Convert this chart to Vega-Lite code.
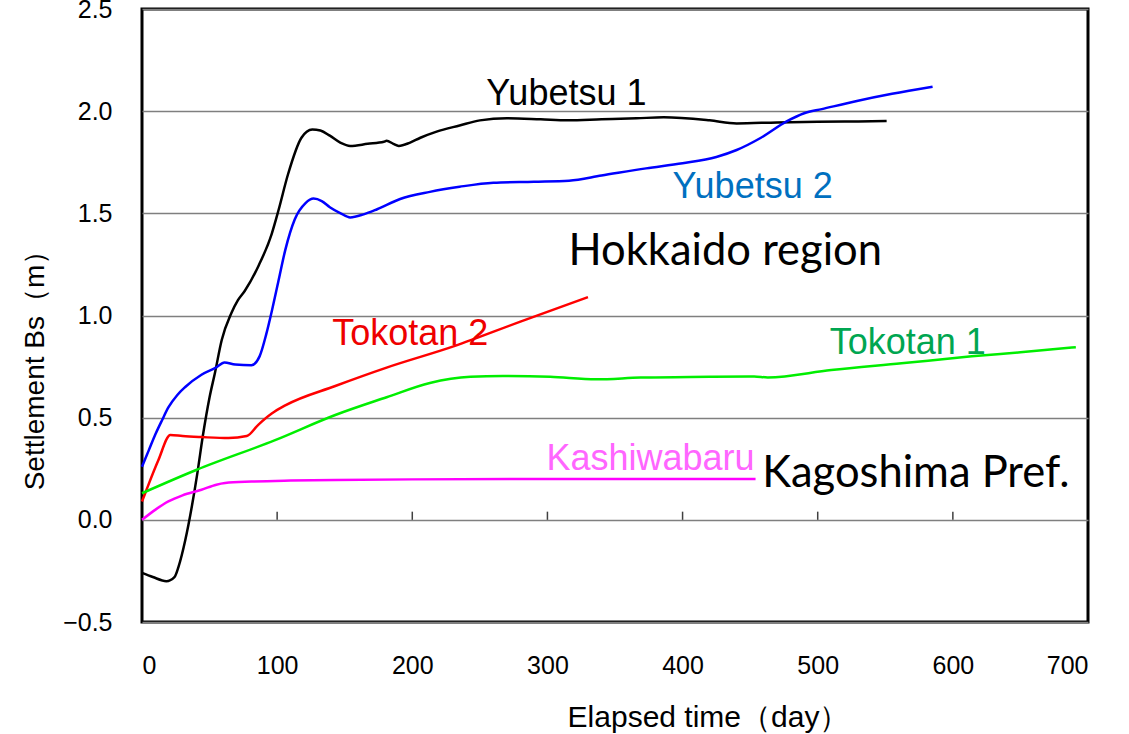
{
  "$schema": "https://vega.github.io/schema/vega-lite/v6.json",
  "width": 946,
  "height": 613,
  "autosize": {"type": "none"},
  "padding": {"left": 142, "top": 9, "right": 41, "bottom": 112},
  "background": "white",
  "config": {
    "view": {"stroke": "black", "strokeWidth": 3},
    "axis": {"labelFont": "Liberation Sans", "titleFont": "Liberation Sans", "labelColor": "#000", "titleColor": "#000", "titleFontWeight": "normal"}
  },
  "datasets": {
    "curves": [
      {"s": "Yubetsu 1", "d": 0, "v": -0.26}, {"s": "Yubetsu 1", "d": 8, "v": -0.28}, {"s": "Yubetsu 1", "d": 18, "v": -0.3}, {"s": "Yubetsu 1", "d": 24, "v": -0.28}, {"s": "Yubetsu 1", "d": 27, "v": -0.23}, {"s": "Yubetsu 1", "d": 32, "v": -0.1}, {"s": "Yubetsu 1", "d": 37, "v": 0.07}, {"s": "Yubetsu 1", "d": 41, "v": 0.23}, {"s": "Yubetsu 1", "d": 45, "v": 0.41}, {"s": "Yubetsu 1", "d": 50, "v": 0.6}, {"s": "Yubetsu 1", "d": 54, "v": 0.72}, {"s": "Yubetsu 1", "d": 59, "v": 0.88}, {"s": "Yubetsu 1", "d": 66, "v": 1.01}, {"s": "Yubetsu 1", "d": 71, "v": 1.075}, {"s": "Yubetsu 1", "d": 76, "v": 1.12}, {"s": "Yubetsu 1", "d": 86, "v": 1.24}, {"s": "Yubetsu 1", "d": 96, "v": 1.4}, {"s": "Yubetsu 1", "d": 101, "v": 1.515}, {"s": "Yubetsu 1", "d": 108, "v": 1.69}, {"s": "Yubetsu 1", "d": 118, "v": 1.87}, {"s": "Yubetsu 1", "d": 126, "v": 1.91}, {"s": "Yubetsu 1", "d": 132, "v": 1.905}, {"s": "Yubetsu 1", "d": 139, "v": 1.88}, {"s": "Yubetsu 1", "d": 147, "v": 1.845}, {"s": "Yubetsu 1", "d": 154, "v": 1.83}, {"s": "Yubetsu 1", "d": 167, "v": 1.84}, {"s": "Yubetsu 1", "d": 179, "v": 1.85}, {"s": "Yubetsu 1", "d": 181, "v": 1.855}, {"s": "Yubetsu 1", "d": 186, "v": 1.84}, {"s": "Yubetsu 1", "d": 190, "v": 1.83}, {"s": "Yubetsu 1", "d": 198, "v": 1.845}, {"s": "Yubetsu 1", "d": 206, "v": 1.87}, {"s": "Yubetsu 1", "d": 218, "v": 1.9}, {"s": "Yubetsu 1", "d": 235, "v": 1.93}, {"s": "Yubetsu 1", "d": 250, "v": 1.955}, {"s": "Yubetsu 1", "d": 270, "v": 1.965}, {"s": "Yubetsu 1", "d": 295, "v": 1.96}, {"s": "Yubetsu 1", "d": 315, "v": 1.955}, {"s": "Yubetsu 1", "d": 340, "v": 1.96}, {"s": "Yubetsu 1", "d": 366, "v": 1.965}, {"s": "Yubetsu 1", "d": 386, "v": 1.97}, {"s": "Yubetsu 1", "d": 420, "v": 1.955}, {"s": "Yubetsu 1", "d": 440, "v": 1.94}, {"s": "Yubetsu 1", "d": 470, "v": 1.945}, {"s": "Yubetsu 1", "d": 500, "v": 1.948}, {"s": "Yubetsu 1", "d": 530, "v": 1.95}, {"s": "Yubetsu 1", "d": 551, "v": 1.952},

      {"s": "Yubetsu 2", "d": 0, "v": 0.26}, {"s": "Yubetsu 2", "d": 5, "v": 0.34}, {"s": "Yubetsu 2", "d": 10, "v": 0.42}, {"s": "Yubetsu 2", "d": 15, "v": 0.49}, {"s": "Yubetsu 2", "d": 19.5, "v": 0.55}, {"s": "Yubetsu 2", "d": 26, "v": 0.61}, {"s": "Yubetsu 2", "d": 32, "v": 0.65}, {"s": "Yubetsu 2", "d": 44, "v": 0.71}, {"s": "Yubetsu 2", "d": 55, "v": 0.746}, {"s": "Yubetsu 2", "d": 61, "v": 0.77}, {"s": "Yubetsu 2", "d": 69, "v": 0.76}, {"s": "Yubetsu 2", "d": 81, "v": 0.757}, {"s": "Yubetsu 2", "d": 87, "v": 0.8}, {"s": "Yubetsu 2", "d": 92, "v": 0.91}, {"s": "Yubetsu 2", "d": 96, "v": 1.02}, {"s": "Yubetsu 2", "d": 101, "v": 1.17}, {"s": "Yubetsu 2", "d": 106, "v": 1.32}, {"s": "Yubetsu 2", "d": 113, "v": 1.47}, {"s": "Yubetsu 2", "d": 121, "v": 1.55}, {"s": "Yubetsu 2", "d": 127, "v": 1.572}, {"s": "Yubetsu 2", "d": 133, "v": 1.56}, {"s": "Yubetsu 2", "d": 139, "v": 1.53}, {"s": "Yubetsu 2", "d": 147, "v": 1.5}, {"s": "Yubetsu 2", "d": 154, "v": 1.48}, {"s": "Yubetsu 2", "d": 164, "v": 1.495}, {"s": "Yubetsu 2", "d": 174, "v": 1.52}, {"s": "Yubetsu 2", "d": 191, "v": 1.57}, {"s": "Yubetsu 2", "d": 213, "v": 1.605}, {"s": "Yubetsu 2", "d": 235, "v": 1.63}, {"s": "Yubetsu 2", "d": 260, "v": 1.65}, {"s": "Yubetsu 2", "d": 290, "v": 1.655}, {"s": "Yubetsu 2", "d": 316, "v": 1.66}, {"s": "Yubetsu 2", "d": 340, "v": 1.685}, {"s": "Yubetsu 2", "d": 373, "v": 1.72}, {"s": "Yubetsu 2", "d": 400, "v": 1.745}, {"s": "Yubetsu 2", "d": 425, "v": 1.776}, {"s": "Yubetsu 2", "d": 440, "v": 1.81}, {"s": "Yubetsu 2", "d": 458, "v": 1.87}, {"s": "Yubetsu 2", "d": 477, "v": 1.95}, {"s": "Yubetsu 2", "d": 490, "v": 1.99}, {"s": "Yubetsu 2", "d": 503, "v": 2.01}, {"s": "Yubetsu 2", "d": 529, "v": 2.05}, {"s": "Yubetsu 2", "d": 555, "v": 2.085}, {"s": "Yubetsu 2", "d": 585, "v": 2.12},

      {"s": "Tokotan 2", "d": 0, "v": 0.09}, {"s": "Tokotan 2", "d": 3.5, "v": 0.15}, {"s": "Tokotan 2", "d": 12, "v": 0.29}, {"s": "Tokotan 2", "d": 21, "v": 0.415}, {"s": "Tokotan 2", "d": 30, "v": 0.41}, {"s": "Tokotan 2", "d": 44, "v": 0.405}, {"s": "Tokotan 2", "d": 64, "v": 0.4}, {"s": "Tokotan 2", "d": 77.5, "v": 0.41}, {"s": "Tokotan 2", "d": 86, "v": 0.465}, {"s": "Tokotan 2", "d": 96, "v": 0.52}, {"s": "Tokotan 2", "d": 106, "v": 0.56}, {"s": "Tokotan 2", "d": 143, "v": 0.655}, {"s": "Tokotan 2", "d": 181, "v": 0.745}, {"s": "Tokotan 2", "d": 231, "v": 0.85}, {"s": "Tokotan 2", "d": 280, "v": 0.97}, {"s": "Tokotan 2", "d": 330, "v": 1.09},

      {"s": "Tokotan 1", "d": 0, "v": 0.13}, {"s": "Tokotan 1", "d": 40.5, "v": 0.245}, {"s": "Tokotan 1", "d": 98.5, "v": 0.39}, {"s": "Tokotan 1", "d": 143, "v": 0.513}, {"s": "Tokotan 1", "d": 181, "v": 0.6}, {"s": "Tokotan 1", "d": 213, "v": 0.67}, {"s": "Tokotan 1", "d": 243, "v": 0.7}, {"s": "Tokotan 1", "d": 267, "v": 0.704}, {"s": "Tokotan 1", "d": 302, "v": 0.7}, {"s": "Tokotan 1", "d": 336, "v": 0.688}, {"s": "Tokotan 1", "d": 369, "v": 0.696}, {"s": "Tokotan 1", "d": 420, "v": 0.7}, {"s": "Tokotan 1", "d": 453, "v": 0.702}, {"s": "Tokotan 1", "d": 463, "v": 0.697}, {"s": "Tokotan 1", "d": 510, "v": 0.733}, {"s": "Tokotan 1", "d": 562, "v": 0.766}, {"s": "Tokotan 1", "d": 614, "v": 0.8}, {"s": "Tokotan 1", "d": 650, "v": 0.82}, {"s": "Tokotan 1", "d": 691, "v": 0.845},

      {"s": "Kashiwabaru", "d": 0, "v": 0}, {"s": "Kashiwabaru", "d": 10, "v": 0.05}, {"s": "Kashiwabaru", "d": 19.5, "v": 0.09}, {"s": "Kashiwabaru", "d": 30, "v": 0.12}, {"s": "Kashiwabaru", "d": 44, "v": 0.147}, {"s": "Kashiwabaru", "d": 55, "v": 0.172}, {"s": "Kashiwabaru", "d": 61.5, "v": 0.18}, {"s": "Kashiwabaru", "d": 81, "v": 0.187}, {"s": "Kashiwabaru", "d": 110, "v": 0.192}, {"s": "Kashiwabaru", "d": 143, "v": 0.195}, {"s": "Kashiwabaru", "d": 200, "v": 0.198}, {"s": "Kashiwabaru", "d": 300, "v": 0.2}, {"s": "Kashiwabaru", "d": 400, "v": 0.2}, {"s": "Kashiwabaru", "d": 454, "v": 0.2}
    ],
    "ticks": [{"d": 100}, {"d": 200}, {"d": 300}, {"d": 400}, {"d": 500}, {"d": 600}]
  },
  "layer": [
    {
      "data": {"name": "ticks"},
      "mark": {"type": "rule", "color": "#404040", "strokeWidth": 1.5},
      "encoding": {
        "x": {"field": "d", "type": "quantitative", "scale": {"domain": [0, 700], "nice": false},
          "axis": {"values": [0, 100, 200, 300, 400, 500, 600, 700], "grid": false, "ticks": false, "tickSize": 0, "domain": false, "labelFontSize": 25, "labelPadding": 43, "labelBaseline": "middle",
            "title": "Elapsed time（day）", "titleFontSize": 30, "titleX": 566, "titleY": 95, "titleBaseline": "middle", "titleAnchor": null, "titleAlign": "center"}},
        "y": {"datum": 0, "type": "quantitative", "scale": {"domain": [-0.5, 2.5], "nice": false},
          "axis": {"values": [-0.5, 0, 0.5, 1, 1.5, 2, 2.5], "format": ".1f", "grid": true, "gridColor": "#7f7f7f", "gridWidth": 1.5, "ticks": false, "tickSize": 0, "domain": false, "labelFontSize": 25, "labelPadding": 30,
            "title": "Settlement Bs（m）", "titleFontSize": 28, "titleAngle": -90, "titleX": -107, "titleY": 354, "titleBaseline": "middle", "titleAlign": "center", "titleAnchor": null}},
        "y2": {"datum": 0.04}
      }
    },
    {
      "data": {"name": "curves"},
      "mark": {"type": "line", "strokeWidth": 2.5, "interpolate": "monotone"},
      "encoding": {
        "x": {"field": "d", "type": "quantitative"},
        "y": {"field": "v", "type": "quantitative"},
        "detail": {"field": "s"},
        "color": {"field": "s", "type": "nominal", "legend": null,
          "scale": {"domain": ["Kashiwabaru", "Tokotan 1", "Tokotan 2", "Yubetsu 2", "Yubetsu 1"], "range": ["#ff00ff", "#00ee00", "#ff0000", "#0000ff", "#000000"]}},
        "order": {"field": "d", "type": "quantitative"}
      }
    },
    {
      "data": {"values": [{"t": "Yubetsu 1", "d": 254.8, "v": 2.028}]},
      "mark": {"type": "text", "font": "Liberation Sans", "fontSize": 36, "align": "left", "baseline": "alphabetic", "color": "#000000"},
      "encoding": {"x": {"field": "d", "type": "quantitative"}, "y": {"field": "v", "type": "quantitative"}, "text": {"field": "t"}}
    },
    {
      "data": {"values": [{"t": "Yubetsu 2", "d": 392.6, "v": 1.574}]},
      "mark": {"type": "text", "font": "Liberation Sans", "fontSize": 36, "align": "left", "baseline": "alphabetic", "color": "#0070c0"},
      "encoding": {"x": {"field": "d", "type": "quantitative"}, "y": {"field": "v", "type": "quantitative"}, "text": {"field": "t"}}
    },
    {
      "data": {"values": [{"t": "Tokotan 2", "d": 140.7, "v": 0.855}]},
      "mark": {"type": "text", "font": "Liberation Sans", "fontSize": 36, "align": "left", "baseline": "alphabetic", "color": "#ee0000"},
      "encoding": {"x": {"field": "d", "type": "quantitative"}, "y": {"field": "v", "type": "quantitative"}, "text": {"field": "t"}}
    },
    {
      "data": {"values": [{"t": "Tokotan 1", "d": 508.9, "v": 0.811}]},
      "mark": {"type": "text", "font": "Liberation Sans", "fontSize": 36, "align": "left", "baseline": "alphabetic", "color": "#00a651"},
      "encoding": {"x": {"field": "d", "type": "quantitative"}, "y": {"field": "v", "type": "quantitative"}, "text": {"field": "t"}}
    },
    {
      "data": {"values": [{"t": "Kashiwabaru", "d": 299.3, "v": 0.244}]},
      "mark": {"type": "text", "font": "Liberation Sans", "fontSize": 36, "align": "left", "baseline": "alphabetic", "color": "#ff66ff"},
      "encoding": {"x": {"field": "d", "type": "quantitative"}, "y": {"field": "v", "type": "quantitative"}, "text": {"field": "t"}}
    },
    {
      "data": {"values": [{"t": "Hokkaido region", "d": 315.6, "v": 1.246}, {"t": "Kagoshima Pref.", "d": 459, "v": 0.161}]},
      "mark": {"type": "text", "font": "Lato", "fontSize": 43.5, "align": "left", "baseline": "alphabetic", "color": "#000000"},
      "encoding": {"x": {"field": "d", "type": "quantitative"}, "y": {"field": "v", "type": "quantitative"}, "text": {"field": "t"}}
    }
  ]
}
